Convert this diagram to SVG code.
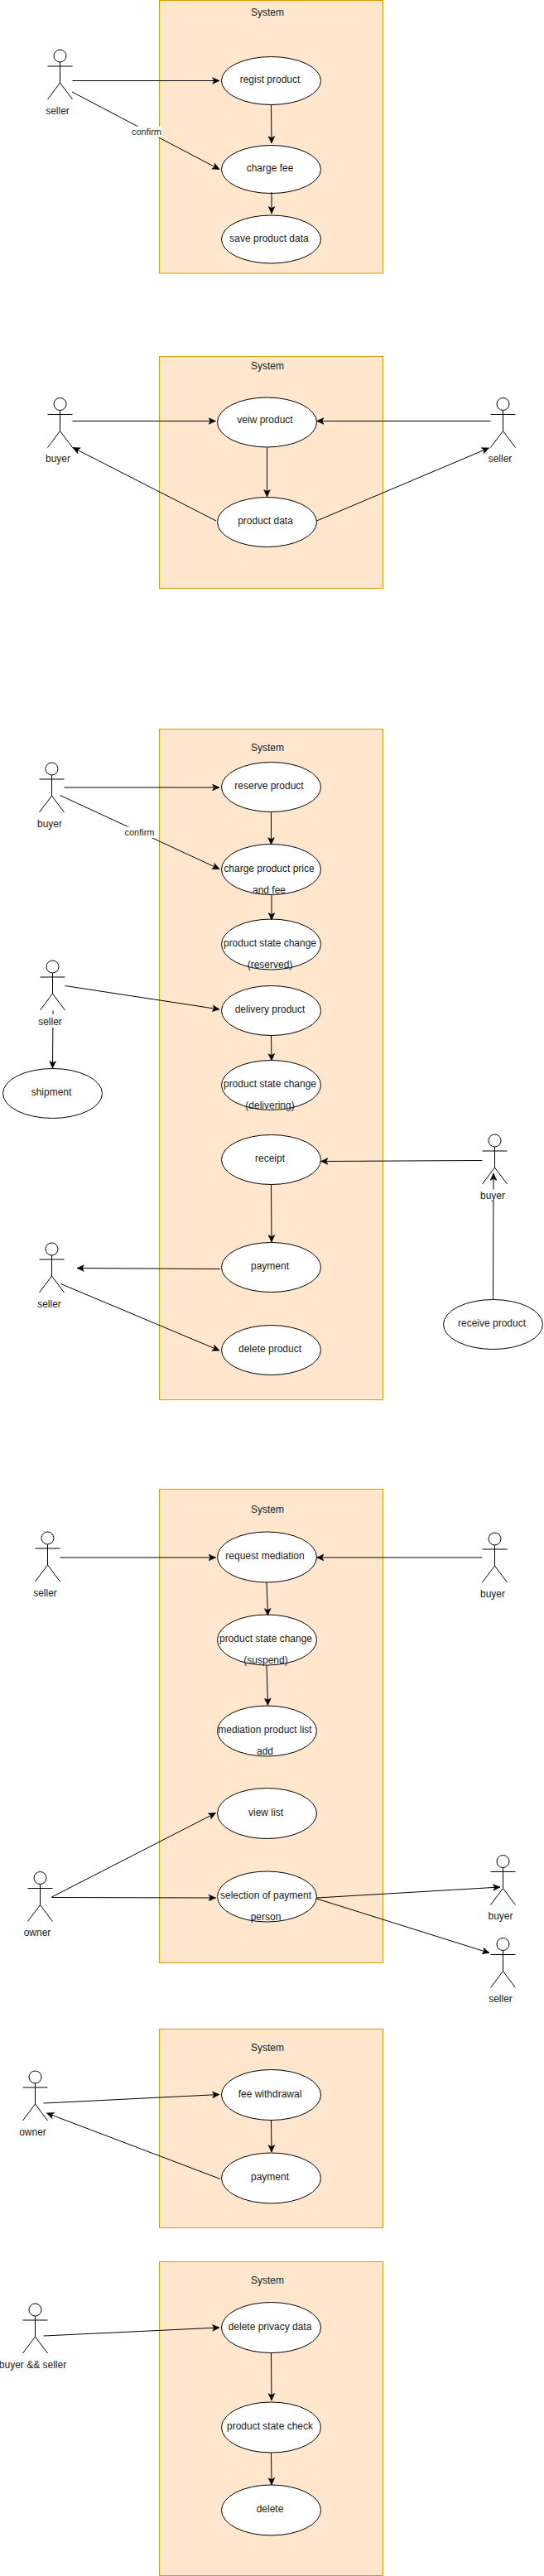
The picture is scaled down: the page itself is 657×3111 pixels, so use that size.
<svg xmlns="http://www.w3.org/2000/svg" width="657" height="3111" viewBox="0 0 657 3111">
<style>
text{font-family:"Liberation Sans",Arial,sans-serif;font-size:12px;fill:#1a1a1a;text-anchor:middle}
.sys{fill:#ffe6cc;stroke:#d79b00;stroke-width:1}
.uc{fill:#fff;stroke:#000;stroke-width:1}
.act{fill:#fff;stroke:#000;stroke-width:1}
.act-l{fill:none;stroke:#000;stroke-width:1}
.c{fill:none;stroke:#000;stroke-width:1;marker-end:url(#a)}
.bg{fill:#fff}
.lbl{font-size:11px;fill:#222}
</style>
<defs>
<marker id="a" markerUnits="userSpaceOnUse" markerWidth="11" markerHeight="10" refX="9" refY="5" orient="auto"><path d="M9,5 L0.6,1.2 L2.6,5 L0.6,8.8 Z" fill="#000" stroke="#000" stroke-width="0.6"/></marker>
<g id="actor"><circle class="act" cx="15" cy="7.5" r="7.5"/><path class="act-l" d="M15,15V40M0,20H30M0,60L15,40L30,60"/></g>
</defs>
<g id="systems">
<g id="sys1"><rect class="sys" x="192.5" y="0.5" width="270" height="329.5"/><text x="323" y="19">System</text></g>
<g id="sys2"><rect class="sys" x="192.5" y="430.5" width="270" height="280"/><text x="323" y="446">System</text></g>
<g id="sys3"><rect class="sys" x="192.5" y="880.5" width="270" height="810"/><text x="323" y="907">System</text></g>
<g id="sys4"><rect class="sys" x="192.5" y="1798.5" width="270" height="572"/><text x="323" y="1827">System</text></g>
<g id="sys5"><rect class="sys" x="192.5" y="2450.5" width="270" height="240"/><text x="323" y="2477">System</text></g>
<g id="sys6"><rect class="sys" x="192.5" y="2731.5" width="270" height="379"/><text x="323" y="2758">System</text></g>
</g>
<g id="nodes">
<g id="regist"><ellipse class="uc" cx="327.5" cy="97.5" rx="60" ry="29"/><text x="326" y="99.5">regist product</text></g>
<g id="charge"><ellipse class="uc" cx="327.5" cy="204.5" rx="60" ry="29"/><text x="326" y="206.5">charge fee</text></g>
<g id="save"><ellipse class="uc" cx="327.5" cy="289" rx="60" ry="29"/><text x="325" y="292">save product data</text></g>
<g id="a-seller1"><use href="#actor" x="57.5" y="60"/><text x="69.5" y="138">seller</text></g>

<g id="veiw"><ellipse class="uc" cx="322.5" cy="510" rx="60" ry="30"/><text x="320" y="511">veiw product</text></g>
<g id="pdata"><ellipse class="uc" cx="322.5" cy="630.5" rx="60" ry="30"/><text x="320.5" y="632.5">product data</text></g>
<g id="a-buyer2"><use href="#actor" x="57.5" y="480.5"/><text x="70" y="558">buyer</text></g>
<g id="a-seller2"><use href="#actor" x="592.5" y="480.5"/><text x="604" y="558">seller</text></g>

<g id="reserve"><ellipse class="uc" cx="327.5" cy="950.5" rx="60" ry="30"/><text x="325" y="953">reserve product</text></g>
<g id="chargeprice"><ellipse class="uc" cx="327.5" cy="1050" rx="60" ry="30.5"/><text x="325" y="1053">charge product price</text><text x="325" y="1079">and fee</text></g>
<g id="state1"><ellipse class="uc" cx="327.5" cy="1140.5" rx="60" ry="30.5"/><text x="326" y="1143">product state change</text><text x="326" y="1169">(reserved)</text></g>
<g id="delivery"><ellipse class="uc" cx="327.5" cy="1220.5" rx="60" ry="30"/><text x="326" y="1223">delivery product</text></g>
<g id="state2"><ellipse class="uc" cx="327.5" cy="1310.5" rx="60" ry="30"/><text x="326" y="1313">product state change</text><text x="326" y="1339">(delivering)</text></g>
<g id="receipt"><ellipse class="uc" cx="327.5" cy="1400.5" rx="60" ry="30"/><text x="326" y="1403">receipt</text></g>
<g id="payment1"><ellipse class="uc" cx="327.5" cy="1530.5" rx="60" ry="30"/><text x="326" y="1533">payment</text></g>
<g id="delprod"><ellipse class="uc" cx="327.5" cy="1630.5" rx="60" ry="30"/><text x="326" y="1633">delete product</text></g>
<g id="shipment"><ellipse class="uc" cx="63.5" cy="1320.5" rx="60" ry="30"/><text x="62" y="1323">shipment</text></g>
<g id="receive"><ellipse class="uc" cx="595.5" cy="1599.5" rx="60" ry="30"/><text x="594" y="1602">receive product</text></g>
<g id="a-buyer3"><use href="#actor" x="47.5" y="921"/><text x="60" y="999">buyer</text></g>
<g id="a-seller3"><use href="#actor" x="48.5" y="1160"/></g>
<g id="a-buyer3b"><use href="#actor" x="582.5" y="1370"/></g>
<g id="a-seller3b"><use href="#actor" x="47.5" y="1501"/><text x="59.5" y="1579">seller</text></g>

<g id="request"><ellipse class="uc" cx="322.5" cy="1880.5" rx="60" ry="30.5"/><text x="320" y="1883">request mediation</text></g>
<g id="state3"><ellipse class="uc" cx="322.5" cy="1980.5" rx="60" ry="30.5"/><text x="321" y="1983">product state change</text><text x="321" y="2009">(suspend)</text></g>
<g id="medlist"><ellipse class="uc" cx="322.5" cy="2090.5" rx="60" ry="30.5"/><text x="320" y="2093">mediation product list</text><text x="320" y="2119">add</text></g>
<g id="viewlist"><ellipse class="uc" cx="322.5" cy="2190" rx="60" ry="30.5"/><text x="321" y="2193">view list</text></g>
<g id="selection"><ellipse class="uc" cx="322.5" cy="2290.5" rx="60" ry="30.5"/><text x="321" y="2293">selection of payment</text><text x="321" y="2319">person</text></g>
<g id="a-seller4"><use href="#actor" x="42.5" y="1850"/><text x="54.5" y="1928">seller</text></g>
<g id="a-buyer4"><use href="#actor" x="582.5" y="1851"/><text x="595" y="1929">buyer</text></g>
<g id="a-owner4"><use href="#actor" x="33.5" y="2260.5"/><text x="45" y="2338">owner</text></g>
<g id="a-buyer4b"><use href="#actor" x="592.5" y="2240.5"/><text x="604.5" y="2318">buyer</text></g>
<g id="a-seller4b"><use href="#actor" x="592.5" y="2340.5"/><text x="604.5" y="2418">seller</text></g>

<g id="feew"><ellipse class="uc" cx="327.5" cy="2530" rx="60" ry="30.5"/><text x="326" y="2533">fee withdrawal</text></g>
<g id="payment2"><ellipse class="uc" cx="327.5" cy="2630.5" rx="60" ry="30.5"/><text x="326" y="2633">payment</text></g>
<g id="a-owner5"><use href="#actor" x="27.5" y="2501"/><text x="39.5" y="2579">owner</text></g>

<g id="delpriv"><ellipse class="uc" cx="327.5" cy="2811" rx="60" ry="30.5"/><text x="326" y="2814">delete privacy data</text></g>
<g id="statecheck"><ellipse class="uc" cx="327.5" cy="2931.5" rx="60" ry="30.5"/><text x="326" y="2934">product state check</text></g>
<g id="delete"><ellipse class="uc" cx="327.5" cy="3031.5" rx="60" ry="30.5"/><text x="326" y="3034">delete</text></g>
<g id="a-bs"><use href="#actor" x="27.5" y="2782"/><text x="39.5" y="2859.5">buyer &amp;&amp; seller</text></g>
</g>
<g id="connectors">
<path class="c" d="M87.5,97.5H265"/>
<path class="c" d="M87,111L265,204.5"/>
<path class="c" d="M327.5,126.5L328,173"/>
<path class="c" d="M328,232V258"/>
<rect class="bg" x="159" y="152.5" width="36" height="13.5"/><text class="lbl" x="177" y="163">confirm</text>

<path class="c" d="M87.5,508.5H260.5"/>
<path class="c" d="M592.5,508.5H382.5"/>
<path class="c" d="M322.5,540.5V600"/>
<path class="c" d="M261,629L88,540.5"/>
<path class="c" d="M382.5,629L590.5,541"/>

<path class="c" d="M77.5,951H265"/>
<path class="c" d="M72.5,960.5L265,1049.5"/>
<rect class="bg" x="150.5" y="998.5" width="36" height="13.5"/><text class="lbl" x="168.5" y="1009">confirm</text>
<path class="c" d="M327.5,980.5V1020"/>
<path class="c" d="M328,1080.5V1111"/>
<path class="c" d="M78.5,1190.5L265,1219"/>
<path class="c" d="M64,1220.5L63.5,1290"/>
<rect class="bg" x="46" y="1225" width="29" height="16"/><text x="60.5" y="1238">seller</text>
<path class="c" d="M327.5,1250.5L328,1281"/>
<path class="c" d="M327.5,1431L328,1500"/>
<path class="c" d="M582.5,1401.5L387.5,1402.5"/>
<path class="c" d="M595.5,1569L596,1417"/>
<rect class="bg" x="581" y="1436.5" width="29" height="14"/><text x="595" y="1448">buyer</text>
<path class="c" d="M266,1532.5L93,1531.5"/>
<path class="c" d="M73.5,1550.5L265,1631"/>

<path class="c" d="M72.5,1881H260.5"/>
<path class="c" d="M582.5,1881H382.5"/>
<path class="c" d="M322,1911L323.5,1951"/>
<path class="c" d="M322,2011L323.5,2059.5"/>
<path class="c" d="M62.5,2291L260.5,2189.5"/>
<path class="c" d="M62.5,2291.5L260.5,2292"/>
<path class="c" d="M382.5,2292L604,2279"/>
<path class="c" d="M382.5,2293L591,2358.5"/>

<path class="c" d="M52.5,2540L265,2529.5"/>
<path class="c" d="M266,2631.5L56.5,2552"/>
<path class="c" d="M327.5,2560.5L328,2599"/>

<path class="c" d="M52.5,2821L265,2811"/>
<path class="c" d="M327.5,2841.5L328,2899"/>
<path class="c" d="M327.5,2962L328,3001"/>
</g>
</svg>
